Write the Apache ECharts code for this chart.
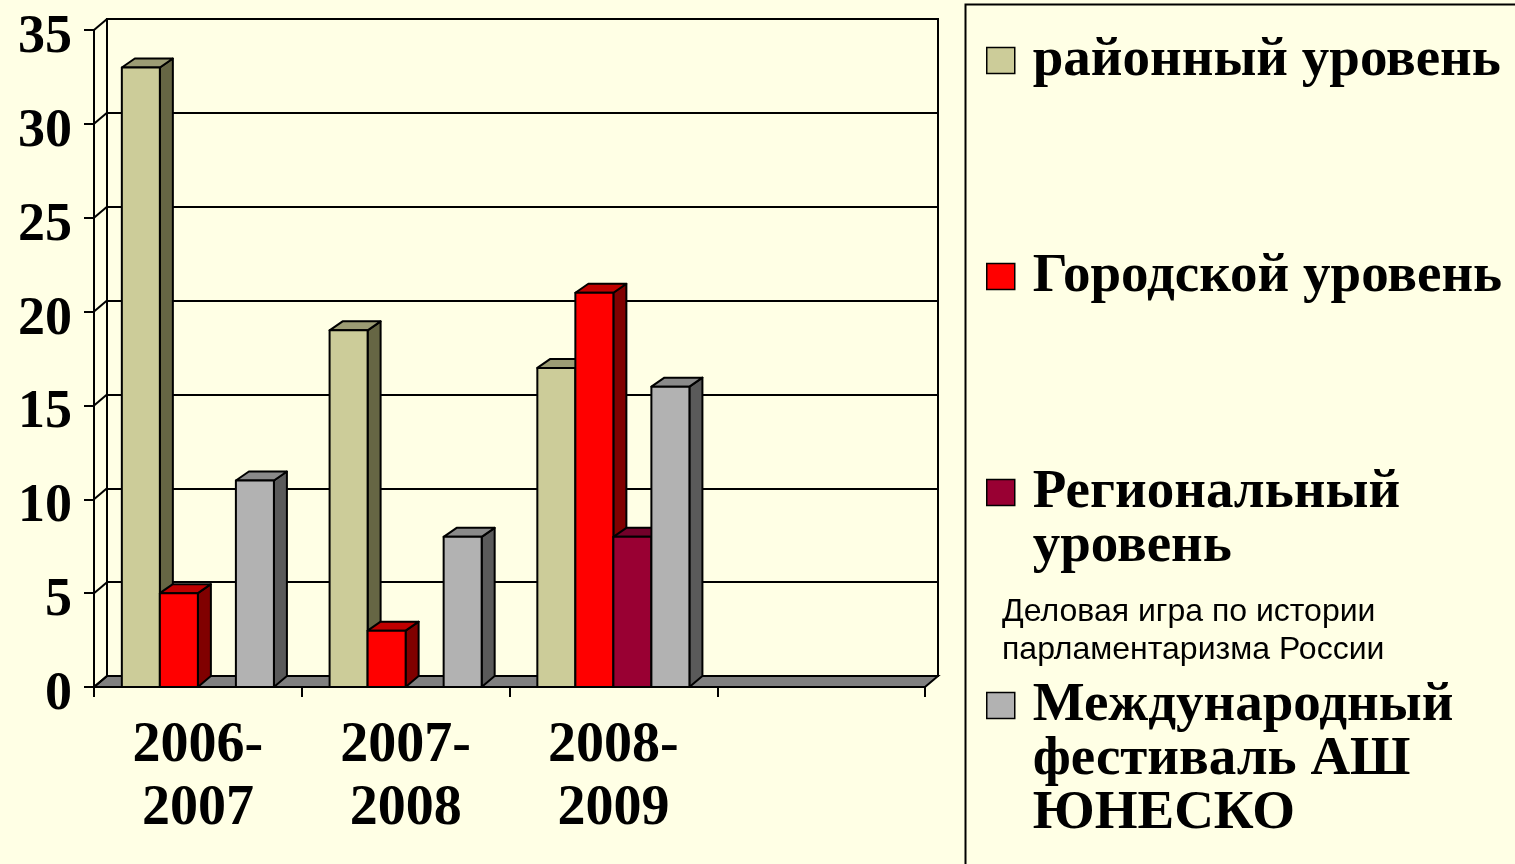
<!DOCTYPE html>
<html>
<head>
<meta charset="utf-8">
<script src="https://cdn.jsdelivr.net/npm/echarts@6/dist/echarts.min.js"></script>
<style>
  html, body { margin: 0; padding: 0; background: #FFFFE5; }
  #chart { width: 1515px; height: 864px; }
</style>
</head>
<body>
<div id="chart"></div>
<script>
// данные диаграммы
var years = ['2006-\n2007', '2007-\n2008', '2008-\n2009', '']
var names = ['районный уровень', 'Городской уровень', 'Региональный уровень', 'Международный фестиваль АШ ЮНЕСКО']
var raion = [33, 19, 17, null]
var gorod = [5, 3, 21, null]
var region = [0, 0, 8, null]
var mezhd = [11, 8, 16, null]
var yTicks = [0, 5, 10, 15, 20, 25, 30, 35]
var note = 'Деловая игра по истории\nпарламентаризма России'

// цвета: лицевая грань, боковая, верхняя
var colors = [
  ['#CCCC99', '#666644', '#9C9C74'],
  ['#FF0000', '#800000', '#C00000'],
  ['#990033', '#4D001A', '#73002A'],
  ['#B2B2B2', '#5A5A5A', '#8A8A8A']
]
var DX = 13
var DY = -11
var serif = 'Liberation Serif'

var myChart = echarts.init(document.getElementById('chart'))

// 3D столбик
function barRender (idx) {
  return function (params, api) {
    var v = api.value(1)
    if (!v) return null
    var c = api.coord([api.value(0), v])
    var b = api.coord([api.value(0), 0])
    var bw = api.size([1, 0])[0] * 0.183
    var x0 = c[0] - 2 * bw + idx * bw
    var yt = c[1]
    var yb = b[1]
    var col = colors[idx]
    var st = {stroke: '#000', lineWidth: 2, lineJoin: 'round'}
    return {
      type: 'group',
      children: [
        {type: 'polygon', shape: {points: [[x0 + bw, yt], [x0 + bw + DX, yt + DY + 2], [x0 + bw + DX, yb + DY], [x0 + bw, yb]]}, style: Object.assign({fill: col[1]}, st)},
        {type: 'polygon', shape: {points: [[x0, yt], [x0 + bw, yt], [x0 + bw + DX, yt + DY + 2], [x0 + DX, yt + DY + 2]]}, style: Object.assign({fill: col[2]}, st)},
        {type: 'rect', shape: {x: x0, y: yt, width: bw, height: yb - yt}, style: Object.assign({fill: col[0]}, st)}
      ]
    }
  }
}

function barSeries (idx, arr) {
  return {
    name: names[idx],
    type: 'custom',
    xAxisIndex: 0,
    yAxisIndex: 0,
    z: 5,
    itemStyle: {color: colors[idx][0]},
    renderItem: barRender(idx),
    encode: {x: 0, y: 1},
    data: arr.map(function (v, i) { return [i, v] })
  }
}

// пол и левая стенка
var floorSeries = {
  type: 'custom',
  xAxisIndex: 0,
  yAxisIndex: 0,
  z: 3,
  silent: true,
  renderItem: function (params, api) {
    var cs = params.coordSys
    var children = []
    if (params.dataIndex === 0) {
      var yb = cs.y + cs.height
      children.push({
        type: 'polygon',
        shape: {points: [[cs.x, yb], [cs.x + cs.width, yb], [cs.x + cs.width + DX, yb + DY], [cs.x + DX, yb + DY]]},
        style: {fill: '#808080', stroke: '#000', lineWidth: 2}
      })
    }
    var p = api.coord([0, api.value(0)])
    children.push({
      type: 'line',
      shape: {x1: cs.x, y1: p[1], x2: cs.x + DX, y2: p[1] + DY},
      style: {stroke: '#000', lineWidth: 2}
    })
    return {type: 'group', children: children}
  },
  data: yTicks.map(function (v) { return [v] })
}

// легенда: пустые строки сверху, чтобы значок стоял у первой строки
var legendText = [
  'районный уровень',
  'Городской уровень',
  '\nРегиональный\nуровень',
  '\n\nМеждународный\nфестиваль АШ\nЮНЕСКО'
]

function legendAt (idx, top) {
  return {
    left: 986,
    top: top,
    padding: 0,
    icon: 'rect',
    itemWidth: 28,
    itemHeight: 26,
    selectedMode: false,
    data: [{name: names[idx], itemStyle: {color: colors[idx][0], borderColor: '#000', borderWidth: 1.5}}],
    formatter: function () { return legendText[idx] },
    textStyle: {
      fontFamily: serif,
      fontWeight: 'bold',
      fontSize: 55,
      lineHeight: 54,
      color: '#000',
      padding: [0, 0, 0, 13]
    }
  }
}

var option = {
  backgroundColor: '#FFFFE5',
  animation: false,
  grid: [
    {left: 94, right: 590, top: 30, bottom: 177},
    {left: 107, right: 577, top: 19, bottom: 188, show: true, backgroundColor: '#FFFFE5', borderColor: '#000', borderWidth: 2, z: 0}
  ],
  xAxis: [
    {
      type: 'category',
      gridIndex: 0,
      data: years,
      axisLine: {show: true, lineStyle: {color: '#000', width: 2}},
      axisTick: {show: true, length: 10, lineStyle: {color: '#000', width: 2}},
      axisLabel: {fontFamily: serif, fontWeight: 'bold', fontSize: 56, lineHeight: 63, color: '#000', margin: 28},
      splitLine: {show: false}
    },
    {
      type: 'category',
      gridIndex: 1,
      data: years,
      show: false
    }
  ],
  yAxis: [
    {
      type: 'value',
      gridIndex: 0,
      min: 0,
      max: 35,
      interval: 5,
      axisLine: {show: true, lineStyle: {color: '#000', width: 2}},
      axisTick: {show: true, length: 10, lineStyle: {color: '#000', width: 2}},
      axisLabel: {
        margin: 22,
        formatter: function (v) { return '{a|' + v + '}' },
        rich: {
          a: {fontFamily: serif, fontWeight: 'bold', fontSize: 54, color: '#000', padding: [16, 0, 0, 0]}
        }
      },
      splitLine: {show: false}
    },
    {
      type: 'value',
      gridIndex: 1,
      min: 0,
      max: 35,
      interval: 5,
      axisLine: {show: true, lineStyle: {color: '#000', width: 2}},
      axisTick: {show: false},
      axisLabel: {show: false},
      splitLine: {show: true, lineStyle: {color: '#000', width: 2}}
    }
  ],
  legend: [
    legendAt(0, 33),
    legendAt(1, 249),
    legendAt(2, 411),
    legendAt(3, 570)
  ],
  graphic: [
    {
      type: 'rect',
      left: 963,
      top: 2,
      shape: {width: 620, height: 900},
      style: {fill: 'none', stroke: '#000', lineWidth: 2},
      z: 1
    },
    {
      type: 'text',
      left: 1002,
      top: 593,
      style: {text: note, fontFamily: 'Liberation Sans', fontSize: 32, lineHeight: 38, fill: '#000'}
    }
  ],
  series: [
    floorSeries,
    barSeries(0, raion),
    barSeries(1, gorod),
    barSeries(2, region),
    barSeries(3, mezhd)
  ]
}
myChart.setOption(option)
</script>
</body>
</html>
